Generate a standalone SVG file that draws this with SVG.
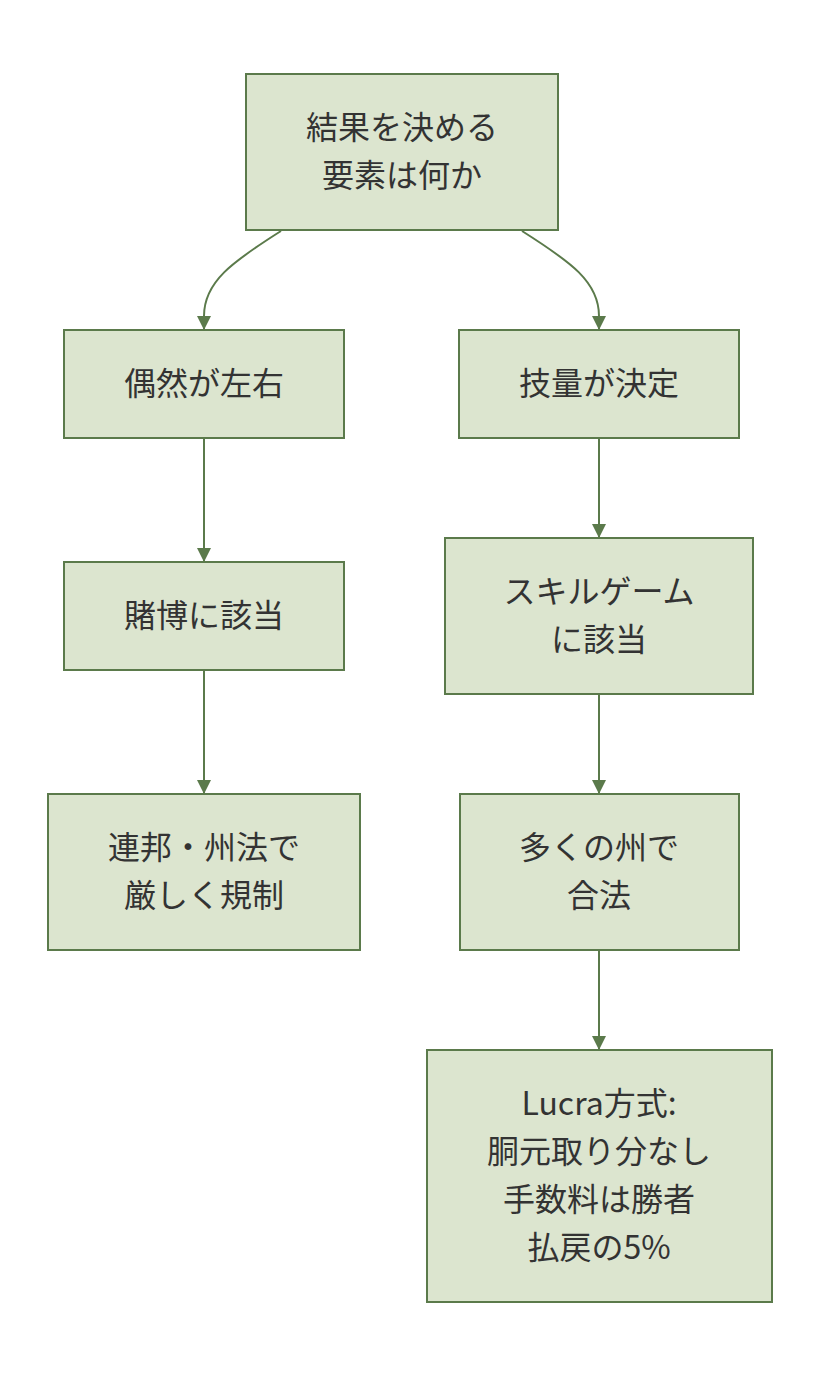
<svg xmlns="http://www.w3.org/2000/svg" width="820" height="1380" viewBox="0 0 820 1380">
<style>
.node rect{fill:#dce5cf;stroke:#5b7a4b;stroke-width:2}
.node text{font-family:"Noto Sans CJK JP","Noto Sans",sans-serif;font-size:32px;fill:#333;text-anchor:middle;dominant-baseline:central}
.edges path{fill:none;stroke:#5b7a4b;stroke-width:2}
</style>
<defs>
<marker id="arr" markerUnits="userSpaceOnUse" markerWidth="16" markerHeight="14" refX="14" refY="7" orient="auto">
<path d="M0,0 L14,7 L0,14 Z" fill="#5b7a4b"/>
</marker>
</defs>
<rect width="820" height="1380" fill="#fff"/>
<g class="edges">
<path d="M281,231 C232,262 204,282 204,316 L204,330" marker-end="url(#arr)"/>
<path d="M522,231 C571,262 599,282 599,316 L599,330" marker-end="url(#arr)"/>
<path d="M204,438 L204,562" marker-end="url(#arr)"/>
<path d="M599,438 L599,538" marker-end="url(#arr)"/>
<path d="M204,670 L204,794" marker-end="url(#arr)"/>
<path d="M599,694 L599,794" marker-end="url(#arr)"/>
<path d="M599,950 L599,1050" marker-end="url(#arr)"/>
</g>
<g id="nA" class="node"><rect x="246" y="74" width="312" height="156"/><text x="402" y="125">結果を決める</text><text x="402" y="173">要素は何か</text></g>
<g id="nB" class="node"><rect x="64" y="330" width="280" height="108"/><text x="204" y="381">偶然が左右</text></g>
<g id="nC" class="node"><rect x="459" y="330" width="280" height="108"/><text x="599" y="381">技量が決定</text></g>
<g id="nD" class="node"><rect x="64" y="562" width="280" height="108"/><text x="204" y="613">賭博に該当</text></g>
<g id="nE" class="node"><rect x="445" y="538" width="308" height="156"/><text x="599" y="589">スキルゲーム</text><text x="599" y="637">に該当</text></g>
<g id="nF" class="node"><rect x="48" y="794" width="312" height="156"/><text x="204" y="845">連邦・州法で</text><text x="204" y="893">厳しく規制</text></g>
<g id="nG" class="node"><rect x="460" y="794" width="279" height="156"/><text x="599" y="845">多くの州で</text><text x="599" y="893">合法</text></g>
<g id="nH" class="node"><rect x="427" y="1050" width="345" height="252"/><text x="599" y="1101">Lucra方式:</text><text x="599" y="1149">胴元取り分なし</text><text x="599" y="1197">手数料は勝者</text><text x="599" y="1245">払戻の5%</text></g>
</svg>
